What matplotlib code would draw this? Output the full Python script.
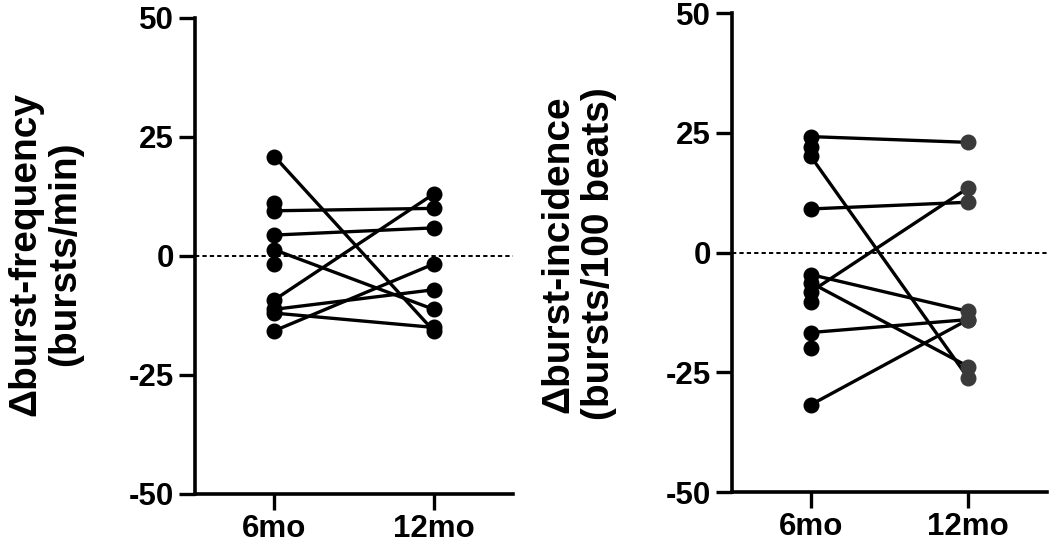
import numpy as np
import matplotlib
matplotlib.use("Agg")
import matplotlib.pyplot as plt

plt.rcParams['font.family'] = ['Liberation Sans', 'DejaVu Sans']
plt.rcParams['font.weight'] = 'bold'
plt.rcParams['axes.unicode_minus'] = False

groups = ["6mo", "12mo"]
yticks = [-50, -25, 0, 25, 50]

# burst-frequency, one entry per subject (nan = no 12mo value)
freq_6mo = [20.9, 11.1, 9.5, 4.4, 1.3, -1.7, -9.2, -11.2, -12.0, -15.7]
freq_12mo = [-15.7, np.nan, 10.0, 5.9, -11.2, np.nan, 13.0, -7.1, -15.0, -1.7]

# burst-incidence
inc_6mo = [24.2, 22.1, 20.1, 9.1, -4.6, -6.3, -8.2, -10.3, -16.7, -19.9, -31.8]
inc_12mo = [23.0, np.nan, -26.2, 10.5, -12.3, -23.8, 13.5, np.nan, -14.0, np.nan, -14.0]

labels = ["\u0394burst-frequency\n(bursts/min)",
          "\u0394burst-incidence\n(bursts/100 beats)"]

fig = plt.figure(figsize=(10.5, 5.45), dpi=100)
ax1 = fig.add_axes([0.1857, 0.0936, 0.3029, 0.8734])
ax2 = fig.add_axes([0.6971, 0.0972, 0.3000, 0.8789])


def paired(ax, before, after, col2):
    x = np.arange(len(groups))
    for a, b in zip(before, after):
        ax.plot(x, [a, b], color='black', lw=2.4, zorder=2)
    ax.plot(np.zeros(len(before)), before, 'o', color='black', ms=10.5, zorder=3)
    ax.plot(np.ones(len(after)), after, 'o', color=col2, ms=10.5, zorder=3)
    ax.axhline(0, color='black', lw=1.4, ls=(0, (2.2, 1.6)), zorder=1)
    ax.set_xlim(-0.5, 1.5)
    ax.set_ylim(-50, 50)
    ax.set_yticks(yticks)
    ax.set_xticks(x)
    ax.set_xticklabels(groups)
    for s in ['top', 'right']:
        ax.spines[s].set_visible(False)
    for s in ['left', 'bottom']:
        ax.spines[s].set_linewidth(2.6)
    ax.tick_params(axis='both', direction='out', length=11.5, width=2.4,
                   labelsize=22.5)
    ax.tick_params(axis='y', pad=3.5)
    ax.tick_params(axis='x', pad=3)
    for t in ax.get_xticklabels() + ax.get_yticklabels():
        t.set_fontweight('bold')


paired(ax1, freq_6mo, freq_12mo, 'black')
paired(ax2, inc_6mo, inc_12mo, '#3a3a3a')

fig.text(0.043, 0.534, labels[0], rotation=90, ha='center', va='center',
         fontsize=28, fontweight='bold', linespacing=1.15)
fig.text(0.551, 0.534, labels[1], rotation=90, ha='center', va='center',
         fontsize=28, fontweight='bold', linespacing=1.15)

fig.savefig("out.png", dpi=100)
